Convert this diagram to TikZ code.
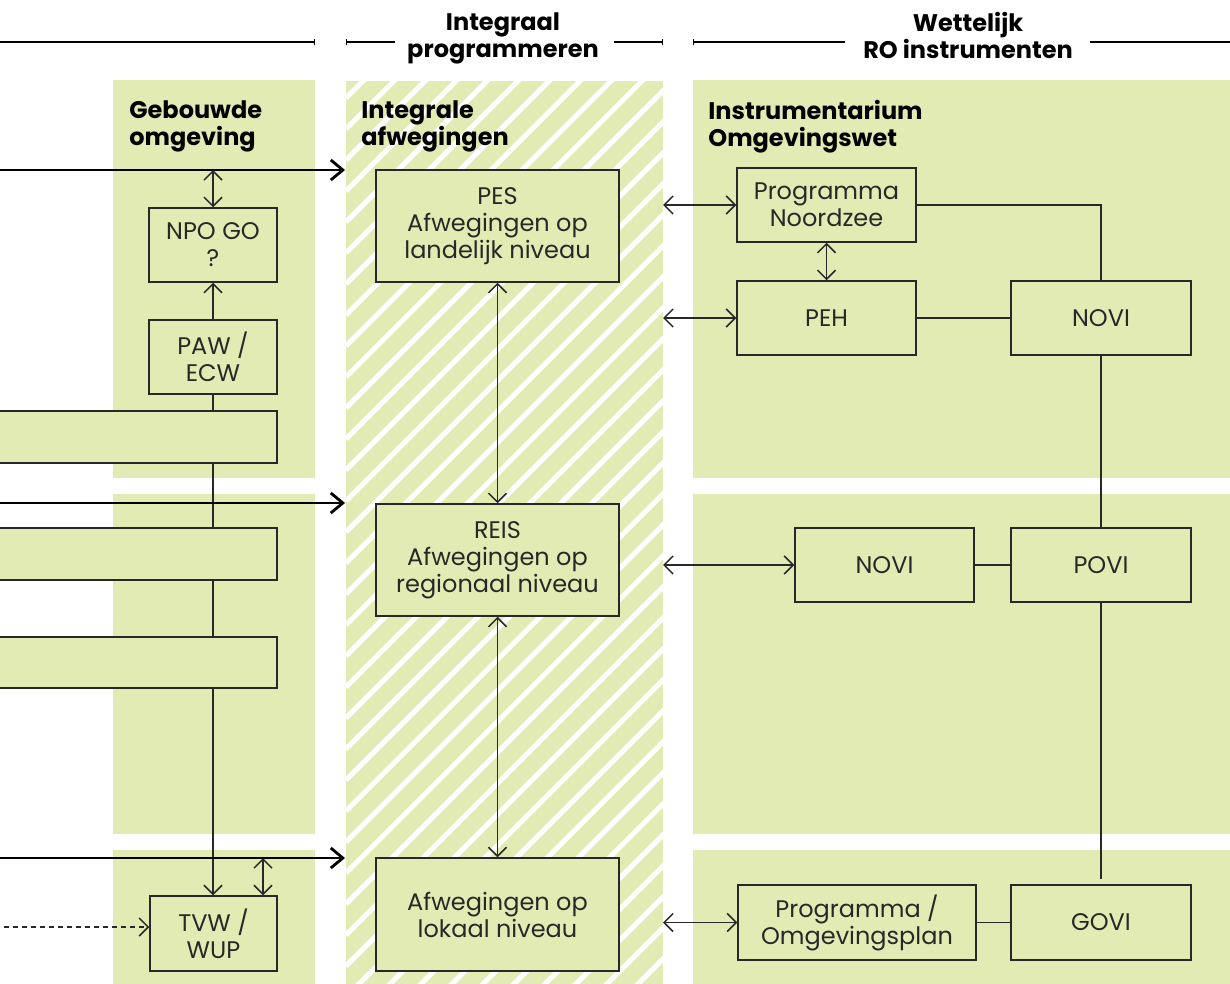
\documentclass[tikz,border=0pt]{standalone}
\usepackage{fontspec}
\setmainfont{Poppins}
\usetikzlibrary{arrows.meta}
\definecolor{panel}{RGB}{226,235,179}
\definecolor{ink}{RGB}{40,40,40}

\tikzset{
	box/.style={draw=ink,fill=panel,line width=0.75pt,align=center,text=ink,
		font=\fontsize{12}{13.5}\selectfont,inner sep=0pt},
	title/.style={font=\fontsize{12}{13.5}\selectfont\bfseries,align=left,
		anchor=north west,inner sep=0pt},
	head/.style={font=\fontsize{12}{13.5}\selectfont\bfseries,align=center,inner sep=0pt},
	rule/.style={line width=0.6pt},
	link/.style={draw=ink,line width=0.75pt},
	dbl/.style={link,{Straight Barb[length=4.5pt,width=9pt]}-{Straight Barb[length=4.5pt,width=9pt]}},
	one/.style={link,-{Straight Barb[length=4.5pt,width=9pt]}},
	flow/.style={line width=1.4pt,-{Straight Barb[length=6pt,width=10pt,line width=1.4pt]}},
}

\begin{document}
\begin{tikzpicture}[x=0.5pt,y=-0.5pt]
	\useasboundingbox (0,0) rectangle (1230,984);

	% panels
	\fill[panel] (113,80) rectangle (315,478);
	\fill[panel] (113,494) rectangle (315,834);
	\fill[panel] (113,850) rectangle (315,984);
	\fill[panel] (693,80) rectangle (1230,478);
	\fill[panel] (693,494) rectangle (1230,834);
	\fill[panel] (693,850) rectangle (1230,984);
	\begin{scope}
		\clip (346,81) rectangle (663,984);
		\fill[panel] (346,81) rectangle (663,984);
		\foreach \k in {-11,...,29}
			\draw[white,line width=2.5pt] (346,408+31*\k) -- ++(400,-400);
	\end{scope}

	% headers
	\draw[rule,-{Bar[width=3pt]}] (0,42) -- (315,42);
	\draw[rule,{Bar[width=3pt]}-] (346,42) -- (395,42);
	\draw[rule,-{Bar[width=3pt]}] (614,42) -- (663,42);
	\draw[rule,{Bar[width=3pt]}-] (693,42) -- (845,42);
	\draw[rule] (1090,42) -- (1230,42);
	\node[head] (hdmid) at (503,38) {Integraal\\programmeren};
	\node[head] (hdright) at (968,35) {Wettelijk\\RO instrumenten};

	\node[title] (tgeb) at (129,100) {Gebouwde\\omgeving};
	\node[title] (tint) at (361,100) {Integrale\\afwegingen};
	\node[title] (tins) at (708,100) {Instrumentarium\\Omgevingswet};

	% gebouwde omgeving
	\node[box,minimum width=64pt,minimum height=37pt] (npo) at (213,245) {NPO GO\\?};
	\node[box,minimum width=64pt,minimum height=37pt] (paw) at (213,357) {PAW /\\ECW};
	\node[box,minimum width=63.5pt,minimum height=37.5pt] (tvw) at (213.5,933.5) {TVW /\\WUP};
	\draw[one] (paw.south) -- (paw.south |- tvw.north);
	\node[box,minimum width=143.5pt,minimum height=26pt] (bar1) at (133.5,437) {};
	\node[box,minimum width=143.5pt,minimum height=26pt] (bar2) at (133.5,554) {};
	\node[box,minimum width=143.5pt,minimum height=25.5pt] (bar3) at (133.5,662.5) {};

	% integrale afwegingen
	\node[box,minimum width=121.5pt,minimum height=56pt] (pes) at (497.5,226) {PES\\Afwegingen op\\landelijk niveau};
	\node[box,minimum width=121.5pt,minimum height=56pt] (reis) at (497.5,560) {REIS\\Afwegingen op\\regionaal niveau};
	\node[box,minimum width=121.5pt,minimum height=56.5pt] (lok) at (497.5,914.5) {Afwegingen op\\lokaal niveau};

	% instrumentarium
	\node[box,minimum width=89.5pt,minimum height=37pt] (pnz) at (826.5,205) {Programma\\Noordzee};
	\node[box,minimum width=89.5pt,minimum height=37pt] (peh) at (826.5,318) {PEH};
	\node[box,minimum width=90pt,minimum height=37pt] (novi1) at (1101,318) {NOVI};
	\node[box,minimum width=89.5pt,minimum height=37pt] (novi2) at (884.5,565) {NOVI};
	\node[box,minimum width=90pt,minimum height=37pt] (povi) at (1101,565) {POVI};
	\node[box,minimum width=119pt,minimum height=37.5pt] (prog) at (857,922.5) {Programma /\\Omgevingsplan};
	\node[box,minimum width=90pt,minimum height=37.5pt] (govi) at (1101,922.5) {GOVI};

	% flows
	\coordinate (in1) at (-5,170);
	\coordinate (in2) at (-5,503);
	\coordinate (in3) at (-5,858);
	\coordinate (edge) at (345,0);
	\coordinate (hatchR) at (663,0);
	\draw[flow] (in1) -- (in1 -| edge);
	\draw[flow] (in2) -- (in2 -| edge);
	\draw[flow] (in3) -- (in3 -| edge);

	\draw[dbl] (npo.north |- in1) -- (npo.north);
	\draw[one] (paw.north) -- (npo.south);
	\coordinate (tv) at (263,858);
	\draw[dbl] (tv) -- (tv |- tvw.north);
	\coordinate (dsh) at (-5,927);
	\draw[one,dash pattern=on 2.5pt off 2pt] (dsh) -- (dsh -| tvw.west);

	\draw[dbl] (pes.south) -- (reis.north);
	\draw[dbl] (reis.south) -- (lok.north);

	\draw[dbl] (pnz.west -| hatchR) -- (pnz.west);
	\draw[dbl] (peh.west -| hatchR) -- (peh.west);
	\draw[dbl] (novi2.west -| hatchR) -- (novi2.west);
	\draw[dbl] (prog.west -| hatchR) -- (prog.west);
	\draw[dbl] (pnz.south) -- (peh.north);

	\draw[link] (pnz.east) -| (novi1.north);
	\draw[link] (peh) -- (novi1);
	\draw[link] (novi1) -- (povi);
	\draw[link] (novi2) -- (povi);
	\coordinate (gend) at (1101,879);
	\draw[link] (povi.south) -- (gend);
	\draw[link] (prog) -- (govi);
\end{tikzpicture}
\end{document}
